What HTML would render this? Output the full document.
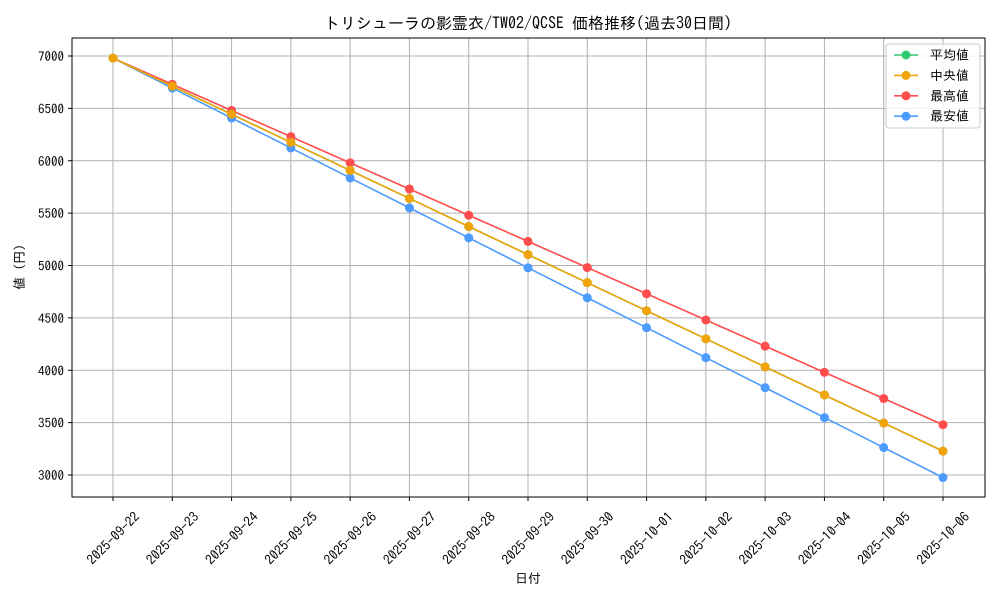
<!DOCTYPE html>
<html><head><meta charset="utf-8">
<style>
body{margin:0;background:#fff;}
svg{display:block;font-family:"IPAGothic","Liberation Sans","Noto Sans CJK JP",sans-serif;}
</style></head>
<body>
<svg id="chart" width="1000" height="600">
<text x="528" y="29" text-anchor="middle" font-size="16">トリシューラの影霊衣/TW02/QCSE 価格推移(過去30日間)</text>
<g id="grid"></g>
<rect x="72" y="38" width="913" height="459" fill="none" stroke="#000" stroke-width="1"/>
<g id="axes"></g>
<g id="series"></g>
<text x="528" y="583" text-anchor="middle" font-size="13">日付</text>
<text x="24" y="267" text-anchor="middle" font-size="13" transform="rotate(-90 24 267)">値 (円)</text>
<g id="legend"></g>
</svg>
<script>
const categories=["2025-09-22","2025-09-23","2025-09-24","2025-09-25","2025-09-26","2025-09-27","2025-09-28","2025-09-29","2025-09-30","2025-10-01","2025-10-02","2025-10-03","2025-10-04","2025-10-05","2025-10-06"];
const avgValues=[6980,6712,6444,6176,5908,5640,5372,5104,4836,4568,4300,4032,3764,3496,3228];
const medianValues=[6980,6712,6444,6176,5908,5640,5372,5104,4836,4568,4300,4032,3764,3496,3228];
const maxValues=[6980,6730,6480,6230,5980,5730,5480,5230,4980,4730,4480,4230,3980,3730,3480];
const minValues=[6980,6694,6408,6122,5836,5550,5264,4978,4692,4406,4120,3834,3548,3262,2976];
const yTicks=[3000,3500,4000,4500,5000,5500,6000,6500,7000];
const seriesNames=["平均値","中央値","最高値","最安値"];

const NS="http://www.w3.org/2000/svg";
function mk(tag,attrs,parent){const e=document.createElementNS(NS,tag);for(const k in attrs)e.setAttribute(k,attrs[k]);parent.appendChild(e);return e;}
const xS=i=>113+i*(943-113)/(categories.length-1);
const yS=v=>56+(7000-v)*(475-56)/4000;
const grid=document.getElementById('grid'),axes=document.getElementById('axes'),ser=document.getElementById('series'),leg=document.getElementById('legend');

categories.forEach((c,i)=>{
  const x=xS(i);
  const gl=mk('line',{x1:x,x2:x,y1:38,y2:497,stroke:'#b0b0b0','stroke-width':1},grid);
  
  
  mk('line',{x1:x,x2:x,y1:497,y2:501,stroke:'#000'},axes);
  const t=mk('text',{x:x,y:543,'font-size':13.5,'text-anchor':'middle',transform:`rotate(-45 ${x} 538)`},axes);
  t.textContent=c;
  
  
});
yTicks.forEach(v=>{
  const y=yS(v);
  const gl=mk('line',{x1:72,x2:985,y1:y,y2:y,stroke:'#b0b0b0','stroke-width':1},grid);
  
  
  mk('line',{x1:68,x2:72,y1:y,y2:y,stroke:'#000'},axes);
  const t=mk('text',{x:64,y:y+5,'font-size':13,'text-anchor':'end'},axes);
  t.textContent=v;
  
  
});
const all=[[avgValues,'#2ecc71'],[medianValues,'#f0a30a'],[maxValues,'#ff4c4c'],[minValues,'#4c9bff']];
const drawOrder=[2,3,0,1];
drawOrder.forEach(k=>{
  const [vals,col]=all[k];
  const g=mk('g',{},ser);
  
  
  const p=mk('polyline',{points:vals.map((v,i)=>xS(i)+','+yS(v)).join(' '),fill:'none',stroke:col,'stroke-width':1.6},g);
  
  
  vals.forEach((v,i)=>{
    const c=mk('circle',{cx:xS(i),cy:yS(v),r:4.5,fill:col},g);
    
    
  });
});
const lb=mk('rect',{x:886,y:44,width:94,height:84,fill:'#fff','fill-opacity':0.85,stroke:'#ccc',rx:3},leg);


seriesNames.forEach((n,k)=>{
  const y=55+k*20.4,col=all[k][1];
  const g=mk('g',{},leg);
  
  
  mk('line',{x1:894,x2:918,y1:y,y2:y,stroke:col,'stroke-width':1.6},g);
  mk('circle',{cx:906,cy:y,r:4.5,fill:col},g);
  const t=mk('text',{x:930,y:y+4.5,'font-size':13},g);
  t.textContent=(k===1?' ':'')+n;
});
</script>
</body></html>
